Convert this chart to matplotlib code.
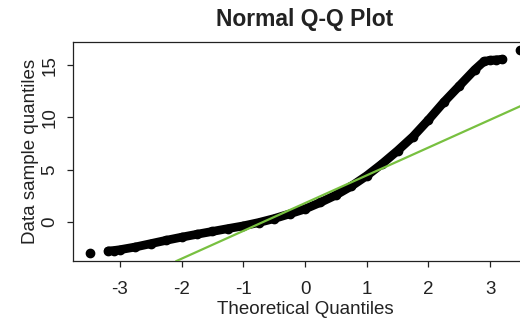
import matplotlib
matplotlib.use("Agg")
import matplotlib.pyplot as plt

plt.rcParams["font.family"] = ["Liberation Sans", "DejaVu Sans"]

# Theoretical vs sample quantiles (body of the distribution)
band_x = [-3.19, -3.10, -3.00, -2.75, -2.50, -2.25, -2.00, -1.75, -1.50, -1.25,
          -1.00, -0.75, -0.50, -0.25, 0.00, 0.25, 0.50, 0.75, 1.00, 1.25,
          1.50, 1.75, 2.00, 2.25, 2.50, 2.75, 2.90, 3.00, 3.10, 3.20]
band_y = [-2.80, -2.76, -2.68, -2.42, -2.10, -1.78, -1.48, -1.20, -0.93, -0.66,
          -0.40, -0.08, 0.30, 0.75, 1.22, 1.85, 2.55, 3.40, 4.40, 5.55,
          6.80, 8.15, 9.75, 11.45, 13.00, 14.55, 15.35, 15.45, 15.50, 15.55]

# isolated extreme points
tail_x = [-3.48, 3.48]
tail_y = [-2.97, 16.45]

# reference line through the quartiles
line_intercept = 1.78
line_slope = 2.66

x_ticks = [-3, -2, -1, 0, 1, 2, 3]
y_ticks = [0, 5, 10, 15]
xlim = (-3.76, 3.76)
ylim = (-3.76, 17.21)

fig = plt.figure(figsize=(5.2, 3.2), dpi=100)
ax = fig.add_axes([0.1404, 0.1844, 0.8923, 0.6844])

ax.plot(band_x, band_y, "-o", color="black", lw=6.3, ms=6,
        solid_capstyle="round", zorder=2)
ax.plot(tail_x, tail_y, "o", color="black", ms=6, zorder=2)
ax.axline((0, line_intercept), slope=line_slope, color="#78c040", lw=1.6, zorder=3)

ax.set_xlim(*xlim)
ax.set_ylim(*ylim)
ax.set_xticks(x_ticks)
ax.set_yticks(y_ticks)
ax.set_xticklabels([str(v) for v in x_ticks])
ax.set_yticklabels([str(v) for v in y_ticks], rotation=90, va="center")

for s in ax.spines.values():
    s.set_linewidth(0.9)
    s.set_color("#222222")
ax.tick_params(direction="out", length=4.3, width=0.9, color="#222222",
               labelsize=13.5, labelcolor="#222222")
ax.tick_params(axis="x", pad=10)
ax.tick_params(axis="y", pad=6)

ax.set_title("Normal Q-Q Plot", fontsize=16.5, fontweight="bold", pad=11.5, color="#222222")
ax.set_xlabel("Theoretical Quantiles", fontsize=13.5, labelpad=2.5, color="#222222")
ax.set_ylabel("Data sample quantiles", fontsize=13.5, labelpad=2, color="#222222")

fig.savefig("out.png", dpi=100)
